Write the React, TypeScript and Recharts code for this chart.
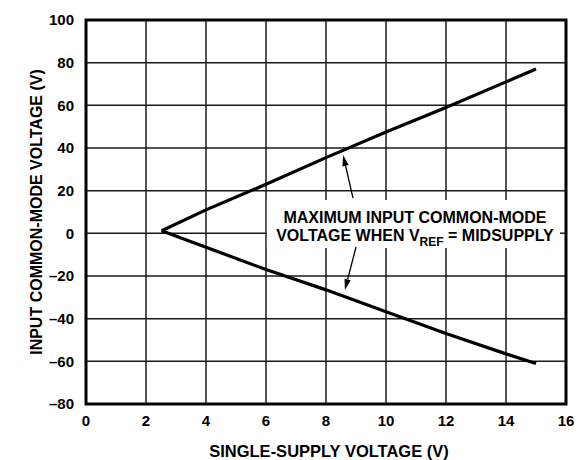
import React from 'react';
import {
  LineChart,
  Line,
  XAxis,
  YAxis,
  CartesianGrid,
  ReferenceArea,
  ReferenceLine,
} from 'recharts';

// supply voltage (V) vs max input common-mode voltage (V)
const upperSupply = [2.52, 4, 6, 8, 10, 12, 14, 15];
const upperCm = [1.2, 11, 23, 35.5, 47.5, 59, 71, 77];

const lowerSupply = [2.52, 4, 6, 8, 10, 12, 14, 15];
const lowerCm = [1.2, -6.5, -17, -26.5, -36.8, -47, -56.5, -61];

const xTicks = [0, 2, 4, 6, 8, 10, 12, 14, 16];
const yTicks = [-80, -60, -40, -20, 0, 20, 40, 60, 80, 100];

// annotation box + arrows (data coords)
const noteBox = { x1: 6.03, x2: 15.8, y1: -6.9, y2: 15.6 };
const upperArrow = [{ x: 8.9, y: 16.5 }, { x: 8.57, y: 36.7 }];
const lowerArrow = [{ x: 9.0, y: -6.4 }, { x: 8.63, y: -26.6 }];

const upperData = upperSupply.map((v, i) => ({ v, cm: upperCm[i] }));
const lowerData = lowerSupply.map((v, i) => ({ v, cm: lowerCm[i] }));

const FONT = '"Liberation Sans", Arial, sans-serif';

const fmtTick = (n: number) => (n < 0 ? `\u2013${Math.abs(n)}` : `${n}`);

const Arrow = (props: any) => {
  const { x1, y1, x2, y2 } = props;
  const dx = x2 - x1;
  const dy = y2 - y1;
  const len = Math.sqrt(dx * dx + dy * dy);
  const ux = dx / len;
  const uy = dy / len;
  const headLen = 11;
  const headW = 3.2;
  const bx = x2 - ux * headLen;
  const by = y2 - uy * headLen;
  const pts = `${x2},${y2} ${bx - uy * headW},${by + ux * headW} ${bx + uy * headW},${by - ux * headW}`;
  return (
    <g>
      <line x1={x1} y1={y1} x2={bx} y2={by} stroke="#000" strokeWidth={1.3} />
      <polygon points={pts} fill="#000" />
    </g>
  );
};

const NoteLabel = (props: any) => {
  const { x, y, width } = props.viewBox;
  const cx = x + width / 2 + 1.5;
  return (
    <text
      textAnchor="middle"
      fontFamily={FONT}
      fontWeight="bold"
      fontSize={16}
      fill="#000"
    >
      <tspan x={cx} y={y + 23}>MAXIMUM INPUT COMMON-MODE</tspan>
      <tspan x={cx} y={y + 41}>
        VOLTAGE WHEN V
        <tspan fontSize={12} dy={5}>REF</tspan>
        <tspan dy={-5}> = MIDSUPPLY</tspan>
      </tspan>
    </text>
  );
};

export default function App() {
  return (
    <div style={{ position: 'absolute', left: 0, top: 0, background: '#fff' }}>
      <LineChart
        width={585}
        height={460}
        margin={{ top: 20, right: 19, bottom: 0, left: 0 }}
      >
        <CartesianGrid stroke="#1a1a1a" strokeWidth={1.5} />
        <XAxis
          type="number"
          dataKey="v"
          domain={[0, 16]}
          ticks={xTicks}
          tickFormatter={fmtTick}
          height={56}
          tickSize={0}
          tickMargin={11}
          axisLine={false}
          allowDataOverflow
          tick={{ fill: '#000', fontSize: 15, fontWeight: 'bold', fontFamily: FONT }}
          label={{
            content: (p: any) => (
              <text
                x={p.viewBox.x + p.viewBox.width / 2 + 3}
                y={p.viewBox.y + 53}
                textAnchor="middle"
                fontFamily={FONT}
                fontWeight="bold"
                fontSize={16.5}
                fill="#000"
              >
                SINGLE-SUPPLY VOLTAGE (V)
              </text>
            ),
          }}
        />
        <YAxis
          type="number"
          domain={[-80, 100]}
          ticks={yTicks}
          tickFormatter={fmtTick}
          width={86}
          tickSize={0}
          tickMargin={12}
          axisLine={false}
          allowDataOverflow
          tick={{ fill: '#000', fontSize: 15, fontWeight: 'bold', fontFamily: FONT }}
          label={{
            content: () => (
              <text
                x={42}
                y={212}
                transform="rotate(-90, 42, 212)"
                textAnchor="middle"
                fontFamily={FONT}
                fontWeight="bold"
                fontSize={16}
                fill="#000"
              >
                INPUT COMMON-MODE VOLTAGE (V)
              </text>
            ),
          }}
        />
        <ReferenceArea
          x1={noteBox.x1}
          x2={noteBox.x2}
          y1={noteBox.y1}
          y2={noteBox.y2}
          fill="#fff"
          fillOpacity={1}
          stroke="none"
          label={{ content: NoteLabel }}
        />
        <ReferenceArea
          x1={0}
          x2={16}
          y1={-80}
          y2={100}
          fill="none"
          stroke="#000"
          strokeWidth={3}
        />
        <ReferenceLine segment={upperArrow} shape={Arrow} />
        <ReferenceLine segment={lowerArrow} shape={Arrow} />
        <Line
          data={upperData}
          dataKey="cm"
          stroke="#000"
          strokeWidth={3.2}
          dot={false}
          type="linear"
          isAnimationActive={false}
        />
        <Line
          data={lowerData}
          dataKey="cm"
          stroke="#000"
          strokeWidth={3.2}
          dot={false}
          type="linear"
          isAnimationActive={false}
        />
      </LineChart>
    </div>
  );
}
